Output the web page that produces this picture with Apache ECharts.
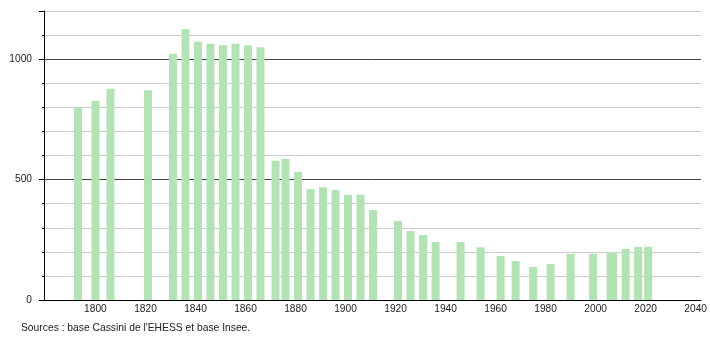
<!DOCTYPE html>
<html>
<head>
<meta charset="utf-8">
<script src="https://cdn.jsdelivr.net/npm/echarts@6/dist/echarts.min.js"></script>
<style>
html,body{margin:0;padding:0;background:#fff;}
#chart{width:710px;height:340px;}
</style>
</head>
<body>
<div id="chart"></div>
<script>
var years = [1793,1800,1806,1821,1831,1836,1841,1846,1851,1856,1861,1866,1872,1876,1881,1886,1891,1896,1901,1906,1911,1921,1926,1931,1936,1946,1954,1962,1968,1975,1982,1990,1999,2006,2007,2012,2017,2021];
var population = [800,826,877,871,1022,1125,1072,1064,1058,1064,1058,1049,578,586,532,461,468,457,436,437,374,328,286,270,241,241,219,183,162,137,149,191,192,198,198,212,221,221];
var xTickLabels = [1800,1820,1840,1860,1880,1900,1920,1940,1960,1980,2000,2020,2040];
var yTickLabels = [0,500,1000];
var sourceText = "Sources : base Cassini de l'EHESS et base Insee.";

var font = 'Liberation Sans, Arial, sans-serif';
var chart = echarts.init(document.getElementById('chart'), null, {renderer:'canvas'});
var data = years.map(function(y,i){return [y, population[i]];});
chart.setOption({
  animation:false,
  backgroundColor:'#ffffff',
  grid:{left:44, right:8.3, top:11, bottom:40, containLabel:false},
  xAxis:{
    type:'value', min:1779.43, max:2042.1,
    axisLine:{show:true, onZero:false, lineStyle:{color:'#000', width:1}},
    axisTick:{show:false},
    splitLine:{show:false},
    axisLabel:{customValues:xTickLabels, color:'#222', fontSize:10.2, fontFamily:font, margin:4,
      formatter:function(v){return String(v);}}
  },
  yAxis:[{
    type:'value', min:0, max:1200, interval:100, position:'left',
    axisLine:{show:true, lineStyle:{color:'#000', width:1}},
    axisTick:{show:true, length:2, lineStyle:{color:'#000'}},
    splitLine:{show:true, lineStyle:{color:['#444','#cccccc','#cccccc','#cccccc','#cccccc'], width:1}},
    axisLabel:{show:true, color:'#222', fontSize:10.2, fontFamily:font, margin:12,
      formatter:function(v){return yTickLabels.indexOf(v)>=0 ? String(v) : '';}}
  },{
    type:'value', min:0, max:1200, interval:500, position:'left',
    axisLine:{show:false},
    axisTick:{show:true, length:5, lineStyle:{color:'#000'}},
    splitLine:{show:false},
    axisLabel:{show:false}
  }],
  series:[{
    type:'bar', data:data, barWidth:8, yAxisIndex:0,
    itemStyle:{color:'#b2e3b2'},
    silent:true
  }],
  graphic:[{
    type:'text', left:21, top:323,
    style:{text:sourceText, fill:'#222', font:'10.3px ' + font}
  }]
});
</script>
</body>
</html>
